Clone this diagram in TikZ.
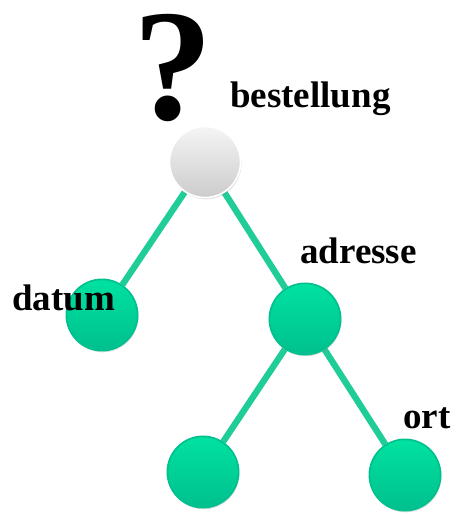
\documentclass[tikz,border=0pt]{standalone}
\usepackage{fontspec}
\setmainfont{Liberation Serif}
\usetikzlibrary{backgrounds,shadows}

\definecolor{leafgreen}{RGB}{0,226,160}
\definecolor{leafdark}{RGB}{0,192,142}
\definecolor{edgegreen}{RGB}{32,204,152}

\begin{document}
\begin{tikzpicture}[
                x=0.025cm, y=-0.025cm,
                knot/.style={circle, minimum size=1.78cm, inner sep=0pt, line width=1.2pt,
                    draw=leafdark, top color=leafgreen, bottom color=leafdark,
                    drop shadow={opacity=.25, shadow xshift=.6pt, shadow yshift=-1.2pt}},
                rootknot/.style={knot, draw=white, top color=gray!8, bottom color=gray!40},
                label/.style={inner sep=0pt, anchor=base west, font=\fontsize{26.3}{30}\selectfont\bfseries},
                link/.style={edgegreen, line width=4.5pt},
            ]
                \useasboundingbox (0,0) rectangle (458,514);
                \node[rootknot] (bestellung) at (205,162) {};
                \node[knot] (datum) at (102,315) {};
                \node[knot] (adresse) at (305,319) {};
                \node[knot] (links) at (203,472) {};
                \node[knot] (ort) at (405,475) {};
                \begin{scope}[on background layer]
                    \draw[link] (bestellung) -- (datum);
                    \draw[link] (bestellung) -- (adresse);
                    \draw[link] (adresse) -- (links);
                    \draw[link] (adresse) -- (ort);
                \end{scope}
                \node[label, font=\fontsize{113}{120}\selectfont\bfseries] (frage) at (133,119) {?};
                \node[label] (t-bestellung) at (230,107) {bestellung};
                \node[label] (t-datum) at (12,310) {datum};
                \node[label] (t-adresse) at (300,263) {adresse};
                \node[label] (t-ort) at (403,428) {ort};

            \end{tikzpicture}
\end{document}
